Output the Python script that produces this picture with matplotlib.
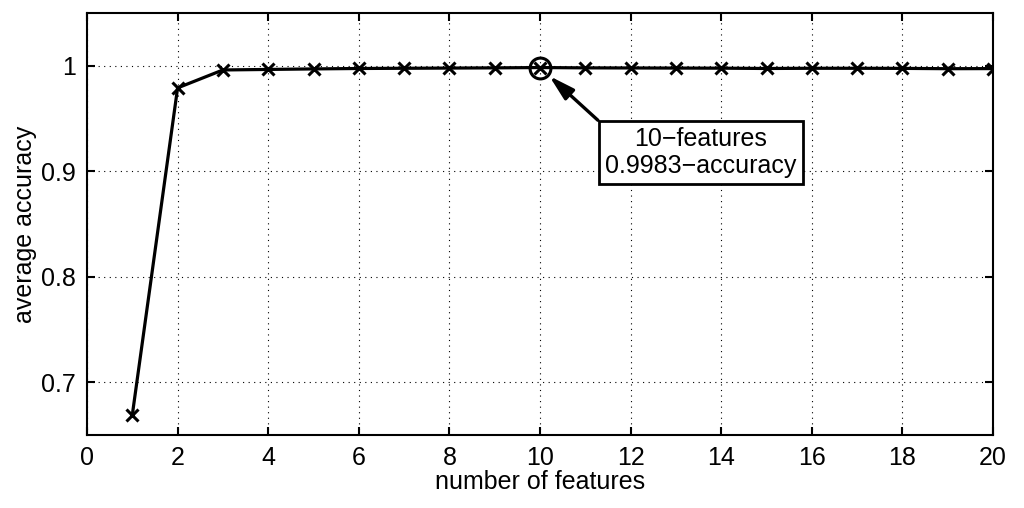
import matplotlib.pyplot as plt

plt.rcParams['font.family'] = ['Liberation Sans', 'DejaVu Sans']

n_features = list(range(1, 21))
accuracy = [0.669, 0.979, 0.9960, 0.9965, 0.9970, 0.9974, 0.9976, 0.9978, 0.9980, 0.9983,
            0.9980, 0.9979, 0.9978, 0.9977, 0.9974, 0.9976, 0.9976, 0.9975, 0.9972, 0.9973]
best_n = 10
best_acc = 0.9983

fig = plt.figure(figsize=(10.24, 5.08), dpi=100)
ax = fig.add_axes([87 / 1024, 1 - 435 / 508, (993 - 87) / 1024, (435 - 13) / 508])

ax.plot(n_features, accuracy, color='black', lw=2.3, marker='x', ms=8, mew=2.2)
ax.plot(best_n, best_acc, marker='o', ms=15, mfc='none', mec='black', mew=2.2)

ax.annotate(f'{best_n}\u2212features\n{best_acc}\u2212accuracy',
            xy=(best_n, best_acc), xytext=(13.55, 0.918),
            ha='center', va='center', fontsize=18, linespacing=1.15,
            bbox=dict(boxstyle='square,pad=0.25', fc='white', ec='black', lw=2),
            arrowprops=dict(arrowstyle='-|>,head_length=0.9,head_width=0.25', color='black',
                            lw=2.4, mutation_scale=17, shrinkA=0, shrinkB=9, relpos=(0, 1)))

ax.set_xlim(0, 20)
ax.set_ylim(0.65, 1.05)
ax.set_xticks(range(0, 21, 2))
ax.set_yticks([0.7, 0.8, 0.9, 1.0])
ax.set_yticklabels(['0.7', '0.8', '0.9', '1'])
ax.grid(True, linestyle=(0, (1, 4)), color='black', lw=0.8)
ax.tick_params(direction='in', length=6, width=1.5, labelsize=18, top=True, right=True, pad=8)
for s in ax.spines.values():
    s.set_linewidth(1.5)

ax.set_xlabel('number of features', fontsize=18, labelpad=0)
ax.set_ylabel('average accuracy', fontsize=18, labelpad=3)

fig.savefig('out.png', dpi=100)
